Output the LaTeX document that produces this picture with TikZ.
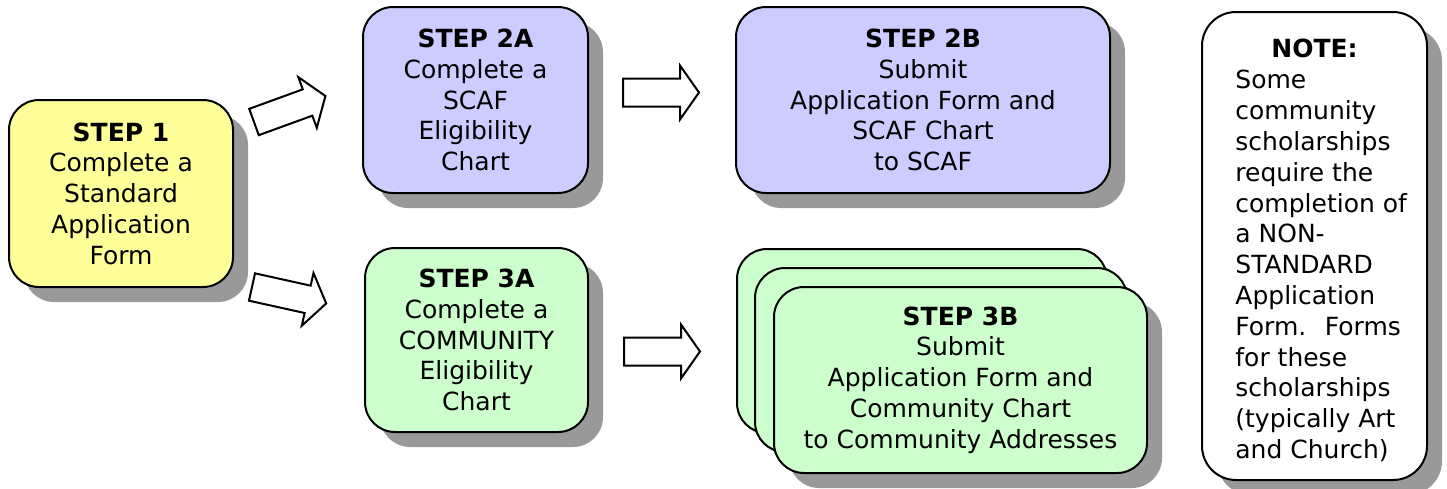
\documentclass[tikz,border=0pt]{standalone}
\usepackage{fontspec}
\setmainfont{DejaVu Sans}
\usetikzlibrary{shadows}
\definecolor{yel}{HTML}{FFFF99}
\definecolor{lav}{HTML}{CCCCFF}
\definecolor{grn}{HTML}{CCFFCC}
\definecolor{shgray}{HTML}{999999}
\newcommand\blockarrow[3]{%
  \draw[blk, shift={(#1,#2)}, rotate=#3] (0,-14) -- (57,-14) -- (57,-27) -- (76,0) -- (57,27) -- (57,14) -- (0,14) -- cycle;}
\begin{document}
\begin{tikzpicture}[x=0.5pt,y=-0.5pt,
  txt/.style={font=\fontsize{12.5}{15.4}\selectfont, inner sep=0pt},
  box/.style={txt, draw=black, line width=1pt, rounded corners=15pt, align=center,
    drop shadow={shadow xshift=7.5pt, shadow yshift=-7.5pt, fill=shgray, opacity=1}},
  blk/.style={draw=black, line width=1pt, fill=white, line join=miter}]
\useasboundingbox (0,0) rectangle (1447,488);
% Step 1
\node[box, fill=yel, minimum width=112pt, minimum height=93.5pt] (s1) at (121,193.5)
  {\textbf{STEP 1}\\Complete a\\Standard\\Application\\Form};
% Step 2A
\node[box, fill=lav, minimum width=112.5pt, minimum height=93pt] (s2a) at (475.5,100)
  {\textbf{STEP 2A}\\Complete a\\SCAF\\Eligibility\\Chart};
% Step 2B
\node[box, fill=lav, minimum width=187pt, minimum height=93pt] (s2b) at (923,100)
  {\textbf{STEP 2B}\\Submit\\Application Form and\\SCAF Chart\\to SCAF};
% Step 3A
\node[box, fill=grn, minimum width=111.5pt, minimum height=92pt] (s3a) at (476.5,340)
  {\textbf{STEP 3A}\\Complete a\\COMMUNITY\\Eligibility\\Chart};
% Step 3B stack
\node[box, fill=grn, minimum width=185pt, minimum height=92pt] (s3bback) at (922,341) {};
\node[box, fill=grn, minimum width=186pt, minimum height=92pt] (s3bmid) at (941,360) {};
\node[box, fill=grn, minimum width=186.5pt, minimum height=93pt] (s3b) at (960.5,380)
  {\textbf{STEP 3B}\\Submit\\Application Form and\\Community Chart\\to Community Addresses};
% Note
\node[box, fill=white, rounded corners=17pt, minimum width=112.5pt, minimum height=234pt] (note) at (1314.5,246) {};
\node[txt, font=\fontsize{12.5}{15.4}\selectfont\bfseries] (notetitle) at (1314.5,48) {NOTE:};
\node[txt, align=left, anchor=west] (notebody) at (1235,266)
  {Some\\community\\scholarships\\require the\\completion of\\a NON-\\STANDARD\\Application\\Form.~ Forms\\for these\\scholarships\\(typically Art\\and Church)};
% block arrows
\blockarrow{254}{122}{20}
\blockarrow{252}{287}{-12.5}
\blockarrow{623}{92.5}{0}
\blockarrow{624}{351.5}{0}
\end{tikzpicture}
\end{document}
